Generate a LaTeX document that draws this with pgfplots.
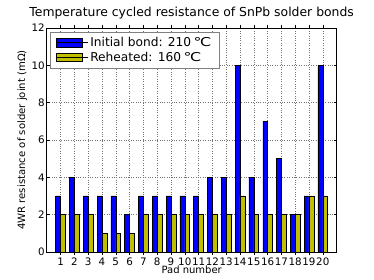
\documentclass[border=0pt]{standalone}
\usepackage{fontspec}
\setmainfont{DejaVu Sans}
\usepackage{pgfplots}
\pgfplotsset{compat=1.18}
\definecolor{mplyellow}{rgb}{0.75,0.75,0}
\newcommand{\degC}{\hspace{2.5pt}\scalebox{1.3}[1]{℃}}
\begin{document}
\begin{tikzpicture}[x=1pt,y=1pt]
\path[use as bounding box] (0,0) rectangle (374,280);
\begin{axis}[
  at={(46.75pt,28pt)}, anchor=south west,
  scale only axis, width=289.85pt, height=224pt,
  xmin=0, xmax=21, ymin=0, ymax=12,
  xtick={1,...,20}, ytick={0,2,...,12},
  tick align=inside, major tick length=3pt,
  xtick pos=both, ytick pos=both,
  tick style={black, line width=0.5pt},
  axis line style={black, line width=0.6pt},
  grid=major,
  major grid style={black!55, dotted, line width=0.5pt},
  /pgf/number format/assume math mode=true,
  tick label style={font=\fontsize{10.3}{12}\selectfont},
  xticklabel style={anchor=base, yshift=-10.3pt, inner sep=0pt},
  yticklabel style={xshift=1.5pt},
  title={Temperature cycled resistance of SnPb solder bonds},
  title style={at={(axis description cs:0.5,1.024)}, anchor=base, font=\fontsize{12.4}{14}\selectfont, inner sep=0pt},
  xlabel={Pad number},
  every axis x label/.style={at={(axis description cs:0.5,-0.098)}, anchor=base, font=\fontsize{10}{12}\selectfont, inner sep=0pt},
  ylabel={4WR resistance of solder joint (mΩ)},
  every axis y label/.style={at={(axis description cs:-0.084,0.5)}, rotate=90, anchor=center, font=\fontsize{10.1}{12}\selectfont, inner sep=0pt},
  ybar, bar width=0.35,
  legend style={at={(axis description cs:0.0112,0.9822)}, anchor=north west,
    draw=black!50, fill=white, line width=0.6pt,
    font=\fontsize{12.2}{14}\selectfont,
    inner xsep=5.5pt, inner ysep=3pt, row sep=0pt,
    nodes={inner sep=2pt}},
  legend cell align=left,
  legend image code/.code={\draw[#1, line width=0.5pt] (0pt,-4.2pt) rectangle (26pt,4.2pt); \path (0pt,0pt) -- (32pt,0pt);},
]
\addplot[fill=blue, draw=black, line width=0.5pt, bar shift=-0.175] coordinates {
(1,3) (2,4) (3,3) (4,3) (5,3) (6,2) (7,3) (8,3) (9,3) (10,3)
(11,3) (12,4) (13,4) (14,10) (15,4) (16,7) (17,5) (18,2) (19,3) (20,10)};
\addplot[fill=mplyellow, draw=black, line width=0.5pt, bar shift=0.175] coordinates {
(1,2) (2,2) (3,2) (4,1) (5,1) (6,1) (7,2) (8,2) (9,2) (10,2)
(11,2) (12,2) (13,2) (14,3) (15,2) (16,2) (17,2) (18,2) (19,3) (20,3)};
\legend{Initial bond: 210\degC, Reheated: 160\degC}
\end{axis}
\end{tikzpicture}
\end{document}
